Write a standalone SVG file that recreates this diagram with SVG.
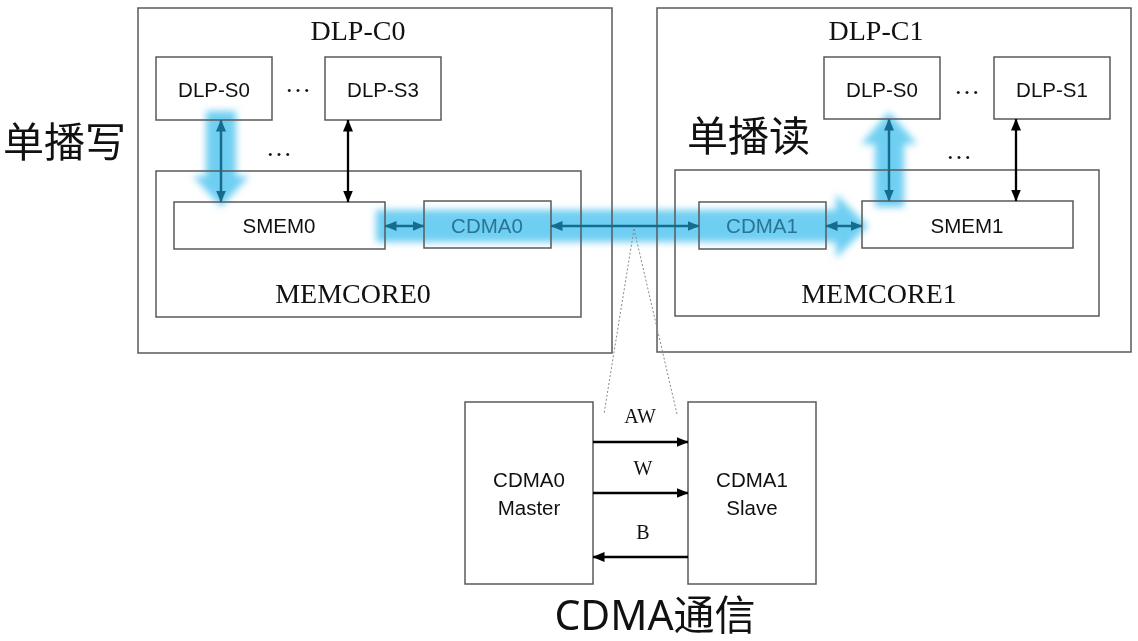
<svg xmlns="http://www.w3.org/2000/svg" width="1138" height="641" viewBox="0 0 1138 641">
<style>
.box{fill:none;stroke:#595959;stroke-width:1.5}
.sans{font-family:"Liberation Sans",Arial,sans-serif;font-size:20.5px;fill:#111;text-anchor:middle}
.serif{font-family:"Liberation Serif","Times New Roman",serif;fill:#111;text-anchor:middle}
.cjk{font-family:"Noto Sans","Noto Sans CJK SC",sans-serif;fill:#111}
.teal{stroke:#176b8c;stroke-width:2.5;fill:none}
.blk{stroke:#000;stroke-width:2.3;fill:none}
.glow{fill:#55c7f0;opacity:0.85}
.dot{stroke:#888;stroke-width:1;stroke-dasharray:2 2;fill:none}
</style>
<defs>
<filter id="blur" x="-30%" y="-30%" width="160%" height="160%"><feGaussianBlur stdDeviation="3.5"/></filter>
<marker id="ht" viewBox="0 0 12 10" refX="11.5" refY="5" markerWidth="12" markerHeight="10" markerUnits="userSpaceOnUse" orient="auto-start-reverse"><path d="M0,0 L12,5 L0,10 z" fill="#176b8c"/></marker>
<marker id="hb" viewBox="0 0 12 10" refX="11.5" refY="5" markerWidth="12" markerHeight="10" markerUnits="userSpaceOnUse" orient="auto-start-reverse"><path d="M0,0 L12,5 L0,10 z" fill="#000"/></marker>
</defs>
<rect width="1138" height="641" fill="#fff"/>

<g id="glows" filter="url(#blur)">
<path class="glow" d="M376,210 L836,210 L836,194 L868,226 L836,258 L836,242 L376,242 z"/>
<path class="glow" d="M206,111 L236,111 L236,176 L249,176 L221,207 L193,176 L206,176 z"/>
<path class="glow" d="M875,207 L904,207 L904,144 L917,144 L889,112 L861,144 L875,144 z"/>
</g>

<g id="DLP-C0">
<rect class="box" x="138" y="8" width="474" height="345"/>
<text class="serif" x="358" y="40" font-size="28">DLP-C0</text>
</g>
<g id="DLP-S0-L">
<rect class="box" x="156" y="57" width="116" height="63"/>
<text class="sans" x="214" y="97">DLP-S0</text>
</g>
<g id="DLP-S3">
<rect class="box" x="325" y="57" width="116" height="63"/>
<text class="sans" x="383" y="97">DLP-S3</text>
</g>
<g id="MEMCORE0">
<rect class="box" x="156" y="171" width="425" height="146"/>
<text class="serif" x="353" y="303" font-size="28">MEMCORE0</text>
</g>
<g id="SMEM0">
<rect class="box" x="174" y="202" width="211" height="47"/>
<text class="sans" x="279" y="233">SMEM0</text>
</g>
<g id="CDMA0">
<rect class="box" x="424" y="201" width="127" height="47"/>
<text class="sans" x="487" y="233" style="fill:#2a7596">CDMA0</text>
</g>

<g id="DLP-C1">
<rect class="box" x="657" y="8" width="474" height="344"/>
<text class="serif" x="876" y="40" font-size="28">DLP-C1</text>
</g>
<g id="DLP-S0-R">
<rect class="box" x="824" y="57" width="116" height="62"/>
<text class="sans" x="882" y="97">DLP-S0</text>
</g>
<g id="DLP-S1">
<rect class="box" x="994" y="57" width="116" height="62"/>
<text class="sans" x="1052" y="97">DLP-S1</text>
</g>
<g id="MEMCORE1">
<rect class="box" x="675" y="170" width="424" height="146"/>
<text class="serif" x="879" y="303" font-size="28">MEMCORE1</text>
</g>
<g id="CDMA1">
<rect class="box" x="699" y="202" width="127" height="47"/>
<text class="sans" x="762" y="233" style="fill:#2a7596">CDMA1</text>
</g>
<g id="SMEM1">
<rect class="box" x="862" y="201" width="211" height="47"/>
<text class="sans" x="967" y="233">SMEM1</text>
</g>

<g id="labels">
<text class="cjk" x="3" y="157" font-size="41">单播写</text>
<text class="cjk" x="687" y="151" font-size="41">单播读</text>
<text class="serif" x="298" y="92" font-size="26">…</text>
<text class="serif" x="279" y="156" font-size="26">…</text>
<text class="serif" x="967" y="94" font-size="26">…</text>
<text class="serif" x="959" y="159" font-size="26">…</text>
<text class="cjk" x="655" y="630" font-size="41" text-anchor="middle">CDMA通信</text>
</g>

<g id="CDMA0-Master">
<rect class="box" x="465" y="402" width="128" height="182"/>
<text class="sans" x="529" y="487">CDMA0</text>
<text class="sans" x="529" y="515">Master</text>
</g>
<g id="CDMA1-Slave">
<rect class="box" x="688" y="402" width="128" height="182"/>
<text class="sans" x="752" y="487">CDMA1</text>
<text class="sans" x="752" y="515">Slave</text>
</g>

<g id="connectors">
<line class="teal" x1="221" y1="120" x2="221" y2="202" marker-start="url(#ht)" marker-end="url(#ht)"/>
<line class="blk" x1="348" y1="120" x2="348" y2="202" marker-start="url(#hb)" marker-end="url(#hb)"/>
<line class="teal" x1="385" y1="226" x2="424" y2="226" marker-start="url(#ht)" marker-end="url(#ht)"/>
<line class="teal" x1="551" y1="226" x2="699" y2="226" marker-start="url(#ht)" marker-end="url(#ht)"/>
<line class="teal" x1="826" y1="226" x2="862" y2="226" marker-start="url(#ht)" marker-end="url(#ht)"/>
<line class="teal" x1="889" y1="119" x2="889" y2="201" marker-start="url(#ht)" marker-end="url(#ht)"/>
<line class="blk" x1="1016" y1="119" x2="1016" y2="201" marker-start="url(#hb)" marker-end="url(#hb)"/>
<line class="blk" x1="593" y1="442" x2="688" y2="442" marker-end="url(#hb)"/>
<line class="blk" x1="593" y1="493" x2="688" y2="493" marker-end="url(#hb)"/>
<line class="blk" x1="688" y1="557" x2="593" y2="557" marker-end="url(#hb)"/>
<path class="dot" d="M634,229 L604,414 M634,229 L677,414"/>
<text class="serif" x="640" y="423" font-size="20">AW</text>
<text class="serif" x="643" y="475" font-size="20">W</text>
<text class="serif" x="643" y="539" font-size="20">B</text>
</g>
</svg>
